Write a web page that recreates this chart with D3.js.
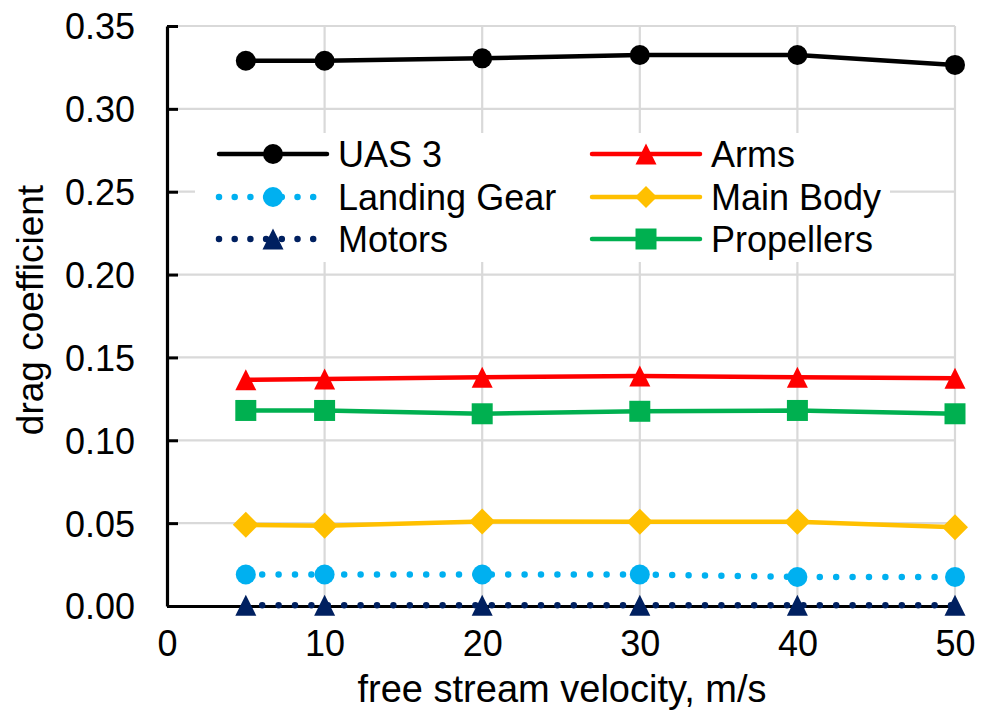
<!DOCTYPE html>
<html>
<head>
<meta charset="utf-8">
<script src="https://cdn.jsdelivr.net/npm/d3@7"></script>
<style>
  html, body { margin: 0; padding: 0; background: #fff; }
  svg { display: block; font-family: "Liberation Sans", Arial, Helvetica, sans-serif; }
</style>
</head>
<body>
<svg id="chart" width="989" height="721"></svg>
<script>
// Free stream velocity (m/s) at which each case was run
const velocity = [5, 10, 20, 30, 40, 50];

// Drag coefficient per component
const uas3        = [0.329, 0.329, 0.3305, 0.3325, 0.3325, 0.3265];
const landingGear = [0.019, 0.019, 0.019, 0.019, 0.0175, 0.0175];
const motors      = [0.0005, 0.0005, 0.0005, 0.0005, 0.0005, 0.0005];
const arms        = [0.1365, 0.137, 0.138, 0.1388, 0.138, 0.1375];
const mainBody    = [0.049, 0.0485, 0.051, 0.0508, 0.0508, 0.0475];
const propellers  = [0.118, 0.118, 0.116, 0.1175, 0.118, 0.116];

const seriesNames = ["UAS 3", "Arms", "Landing Gear", "Main Body", "Motors", "Propellers"];

const xTicks = [0, 10, 20, 30, 40, 50];
const yTicks = [0, 0.05, 0.10, 0.15, 0.20, 0.25, 0.30, 0.35];

const series = [
  { name: "UAS 3",        values: uas3,        color: "#000000", dotted: false, marker: "circle" },
  { name: "Arms",         values: arms,        color: "#ff0000", dotted: false, marker: "triangle" },
  { name: "Landing Gear", values: landingGear, color: "#00b0f0", dotted: true,  marker: "circle" },
  { name: "Main Body",    values: mainBody,    color: "#ffc000", dotted: false, marker: "diamond" },
  { name: "Motors",       values: motors,      color: "#002060", dotted: true,  marker: "triangle" },
  { name: "Propellers",   values: propellers,  color: "#00b050", dotted: false, marker: "square" }
];

const svg = d3.select("#chart");
const x = d3.scaleLinear().domain([0, 50]).range([167, 955]);
const y = d3.scaleLinear().domain([0, 0.35]).range([606, 26]);

// Marker path centred on its bounding box
function markerPath(type, s) {
  const h = s / 2;
  switch (type) {
    case "circle":
      return `M${-h},0A${h},${h} 0 1,0 ${h},0A${h},${h} 0 1,0 ${-h},0Z`;
    case "triangle":
      return `M0,${-h}L${h},${h}L${-h},${h}Z`;
    case "diamond":
      return `M0,${-h}L${h},0L0,${h}L${-h},0Z`;
    case "square":
      return `M${-h},${-h}H${h}V${h}H${-h}Z`;
  }
}
const markerSize = { circle: 20, triangle: 21, diamond: 26, square: 21 };

// Gridlines
const grid = svg.append("g").attr("stroke", "#d9d9d9").attr("stroke-width", 2.2);
grid.selectAll("line.h").data(yTicks.filter(d => d > 0)).join("line")
  .attr("x1", x(0)).attr("x2", x(50))
  .attr("y1", d => y(d)).attr("y2", d => y(d));
grid.selectAll("line.v").data(xTicks.filter(d => d > 0)).join("line")
  .attr("x1", d => x(d)).attr("x2", d => x(d))
  .attr("y1", y(0)).attr("y2", y(0.35));

// Y axis with inward ticks
const yAxis = d3.axisLeft(y).tickValues(yTicks).tickFormat(d3.format(".2f"))
  .tickSizeInner(-11).tickSizeOuter(0).tickPadding(32);
const gy = svg.append("g").attr("transform", `translate(${x(0)},0)`).call(yAxis);
gy.select(".domain").attr("stroke", "#000").attr("stroke-width", 3.2);
gy.selectAll(".tick line").attr("stroke", "#000").attr("stroke-width", 3);
gy.selectAll(".tick text").attr("font-size", 36).attr("fill", "#000")
  .attr("font-family", "'Liberation Sans', Arial, sans-serif").attr("dy", "0.36em");

// X axis
const xAxis = d3.axisBottom(x).tickValues(xTicks).tickFormat(d3.format("d"))
  .tickSizeInner(0).tickSizeOuter(0).tickPadding(24);
const gx = svg.append("g").attr("transform", `translate(0,${y(0)})`).call(xAxis);
gx.select(".domain").attr("stroke", "#000").attr("stroke-width", 3.2);
gx.selectAll(".tick text").attr("font-size", 36).attr("fill", "#000")
  .attr("font-family", "'Liberation Sans', Arial, sans-serif").attr("dy", "0.71em");

// Axis titles
svg.append("text").attr("x", (x(0) + x(50)) / 2 + 1).attr("y", 702)
  .attr("text-anchor", "middle").attr("font-size", 38).attr("fill", "#000")
  .text("free stream velocity, m/s");
svg.append("text").attr("transform", `translate(43,310) rotate(-90)`)
  .attr("text-anchor", "middle").attr("font-size", 37).attr("fill", "#000")
  .text("drag coefficient");

// Series lines and markers
const line = d3.line().x((d, i) => x(velocity[i])).y(d => y(d));
const plot = svg.append("g");
series.forEach(s => {
  plot.append("path").datum(s.values)
    .attr("fill", "none").attr("stroke", s.color)
    .attr("stroke-width", s.dotted ? 6.5 : 4.5)
    .attr("stroke-linecap", "round").attr("stroke-linejoin", "round")
    .attr("stroke-dasharray", s.dotted ? "0 16.4" : null)
    .attr("d", line);
});
series.forEach(s => {
  plot.selectAll(null).data(s.values).join("path")
    .attr("transform", (d, i) => `translate(${x(velocity[i])},${y(d)})`)
    .attr("d", markerPath(s.marker, markerSize[s.marker]))
    .attr("fill", s.color);
});

// Legend
const legend = svg.append("g");
legend.append("rect").attr("x", 195).attr("y", 133).attr("width", 695).attr("height", 129).attr("fill", "#fff");
const colX = [219, 592];
const rowY = [154, 197, 239];
series.forEach((s, i) => {
  const cx = colX[i % 2], cy = rowY[Math.floor(i / 2)];
  const g = legend.append("g").attr("transform", `translate(${cx},${cy})`);
  g.append("line").attr("x1", 0).attr("x2", 108).attr("y1", 0).attr("y2", 0)
    .attr("stroke", s.color).attr("stroke-width", s.dotted ? 6.5 : 4.5)
    .attr("stroke-linecap", "round")
    .attr("stroke-dasharray", s.dotted ? "0 15.7" : null);
  const ms = s.marker === "diamond" ? 22 : markerSize[s.marker];
  g.append("path").attr("transform", "translate(54,0)")
    .attr("d", markerPath(s.marker, ms)).attr("fill", s.color);
  g.append("text").attr("x", 119).attr("y", 0).attr("dy", "0.36em")
    .attr("font-size", 36).attr("fill", "#000").text(s.name);
});
</script>
</body>
</html>
